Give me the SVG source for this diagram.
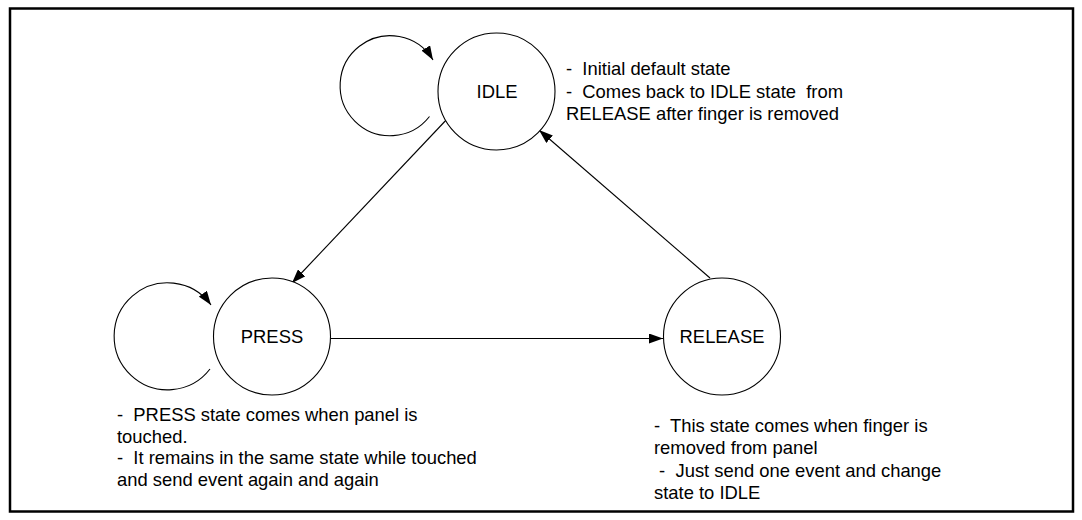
<svg xmlns="http://www.w3.org/2000/svg" width="1082" height="520" viewBox="0 0 1082 520">
<style>
  .state { fill: #ffffff; stroke: #000000; stroke-width: 1.1; }
  .label { font-family: "Liberation Sans", Arial, sans-serif; font-size: 18.4px; fill: #000000; }
  .edge { fill: none; stroke: #000000; stroke-width: 1.1; marker-end: url(#arrow); }
  .frame { fill: none; stroke: #000000; stroke-width: 2.5; }
</style>
<defs>
  <marker id="arrow" viewBox="0 0 14 10" refX="14" refY="5" markerWidth="14" markerHeight="10" markerUnits="userSpaceOnUse" orient="auto">
    <path d="M0,0 L14,5 L0,10 z" fill="#000000"/>
  </marker>
</defs>
<rect class="frame" x="10" y="8.5" width="1063" height="503"/>

<g id="connectors">
  <path id="idle-loop" class="edge" d="M 429.5 116.5 A 50 50 0 1 1 433 60"/>
  <path id="press-loop" class="edge" d="M 210 369 A 53.5 53.5 0 1 1 211 305"/>
  <path id="idle-to-press" class="edge" d="M 449 117 L 292 283"/>
  <path id="press-to-release" class="edge" d="M 331 338.5 L 663 338.5"/>
  <path id="release-to-idle" class="edge" d="M 710 278 L 539 130"/>
</g>

<g id="idle">
  <circle class="state" cx="496.5" cy="91.5" r="58.5"/>
  <text class="label" x="497" y="97.5" text-anchor="middle">IDLE</text>
</g>
<g id="press">
  <circle class="state" cx="272" cy="336.5" r="58.5"/>
  <text class="label" x="272" y="343" text-anchor="middle">PRESS</text>
</g>
<g id="release">
  <circle class="state" cx="722" cy="336.5" r="58.5"/>
  <text class="label" x="722" y="343" text-anchor="middle">RELEASE</text>
</g>

<g id="idle-note" class="label">
  <text x="566" y="75" xml:space="preserve">-  Initial default state</text>
  <text x="566" y="97.5" xml:space="preserve">-  Comes back to IDLE state  from</text>
  <text x="566" y="120" xml:space="preserve">RELEASE after finger is removed</text>
</g>
<g id="press-note" class="label">
  <text x="117" y="421" xml:space="preserve">-  PRESS state comes when panel is</text>
  <text x="117" y="442.5" xml:space="preserve">touched.</text>
  <text x="117" y="464" xml:space="preserve">-  It remains in the same state while touched</text>
  <text x="117" y="485.5" xml:space="preserve">and send event again and again</text>
</g>
<g id="release-note" class="label">
  <text x="654" y="432" xml:space="preserve">-  This state comes when finger is</text>
  <text x="654" y="454" xml:space="preserve">removed from panel</text>
  <text x="654" y="476.5" xml:space="preserve"> -  Just send one event and change</text>
  <text x="654" y="498.5" xml:space="preserve">state to IDLE</text>
</g>
</svg>
